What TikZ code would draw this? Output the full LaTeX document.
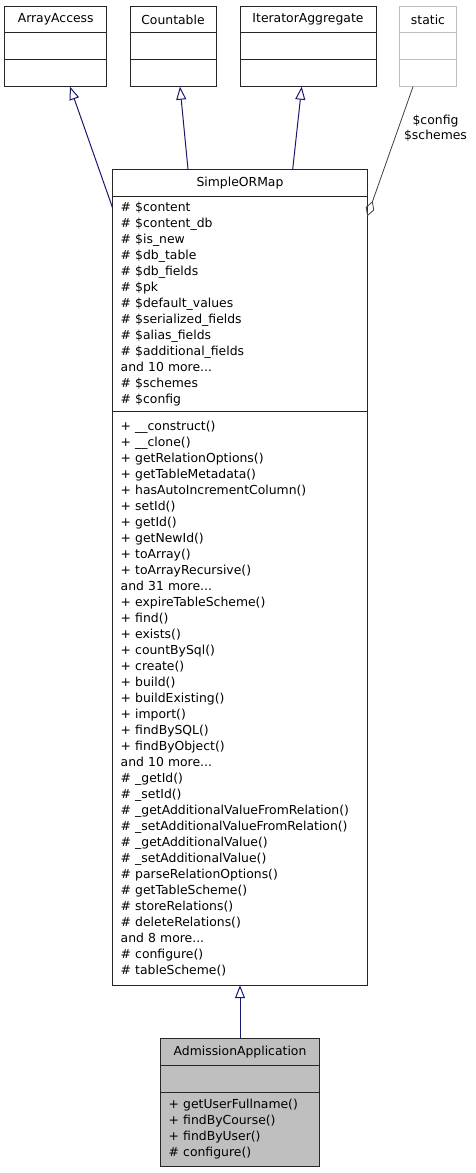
\documentclass[tikz,border=0pt]{standalone}
\usepackage{fontspec}
\setmainfont{DejaVu Sans}
\usetikzlibrary{arrows.meta,positioning}
\definecolor{midnightblue}{RGB}{25,25,112}
\definecolor{edgegray}{RGB}{64,64,64}
\definecolor{fadedgray}{RGB}{191,191,191}

\begin{document}
\begin{tikzpicture}[x=1pt,y=-1pt,
  box/.style={rectangle, draw=black!85, line width=1pt, fill=white, inner sep=0pt, outer sep=0pt,
    font=\fontsize{12.4}{16}\selectfont},
  head/.style={box, minimum width=#1, minimum height=26.9, anchor=north west},
  slot/.style={box, minimum width=#1, minimum height=26.9},
  members/.style={box, text width=#1, inner xsep=8pt, align=left},
  inherit/.style={draw=midnightblue, line width=1pt, -{Triangle[open, length=13pt, width=10pt]}},
  usage/.style={draw=edgegray, line width=0.8pt, -{Diamond[open, length=16pt, width=9pt]}}
]
\useasboundingbox (0,0) rectangle (476,1173);
%Interfaces
\node[head=102] (aa) at (4.7,6) {ArrayAccess};
\node[slot=102, below=0pt of aa] (aa attr) {};
\node[slot=102, below=0pt of aa attr] (aa meth) {};
\node[head=86] (cnt) at (130,6) {Countable};
\node[slot=86, below=0pt of cnt] (cnt attr) {};
\node[slot=86, below=0pt of cnt attr] (cnt meth) {};
\node[head=136] (ia) at (240,6) {IteratorAggregate};
\node[slot=136, below=0pt of ia] (ia attr) {};
\node[slot=136, below=0pt of ia attr] (ia meth) {};
\node[head=57.4, draw=fadedgray] (st) at (399.3,6) {static};
\node[slot=57.4, draw=fadedgray, below=0pt of st] (st attr) {};
\node[slot=57.4, draw=fadedgray, below=0pt of st attr] (st meth) {};
%Base class
\node[head=254.6] (som) at (112.7,169.3) {SimpleORMap};
\node[members=238.6, minimum height=215.7, below=0pt of som] (som attr) {%
\# \$content\\
\# \$content\_db\\
\# \$is\_new\\
\# \$db\_table\\
\# \$db\_fields\\
\# \$pk\\
\# \$default\_values\\
\# \$serialized\_fields\\
\# \$alias\_fields\\
\# \$additional\_fields\\
and 10 more...\\
\# \$schemes\\
\# \$config};
\node[members=238.6, minimum height=573.3, below=0pt of som attr] (som meth) {%
+ \_\_construct()\\
+ \_\_clone()\\
+ getRelationOptions()\\
+ getTableMetadata()\\
+ hasAutoIncrementColumn()\\
+ setId()\\
+ getId()\\
+ getNewId()\\
+ toArray()\\
+ toArrayRecursive()\\
and 31 more...\\
+ expireTableScheme()\\
+ find()\\
+ exists()\\
+ countBySql()\\
+ create()\\
+ build()\\
+ buildExisting()\\
+ import()\\
+ findBySQL()\\
+ findByObject()\\
and 10 more...\\
\# \_getId()\\
\# \_setId()\\
\# \_getAdditionalValueFromRelation()\\
\# \_setAdditionalValueFromRelation()\\
\# \_getAdditionalValue()\\
\# \_setAdditionalValue()\\
\# parseRelationOptions()\\
\# getTableScheme()\\
\# storeRelations()\\
\# deleteRelations()\\
and 8 more...\\
\# configure()\\
\# tableScheme()};
%Derived class
\node[head=158.6, fill=fadedgray] (adm) at (160.7,1038.3) {AdmissionApplication};
\node[slot=158.6, fill=fadedgray, below=0pt of adm] (adm attr) {};
\node[members=142.6, minimum height=74, fill=fadedgray, below=0pt of adm attr] (adm meth) {%
+ getUserFullname()\\
+ findByCourse()\\
+ findByUser()\\
\# configure()};
%Edges
\draw[inherit] ([yshift=-12]som attr.north west) -- ([xshift=14.3]aa meth.south);
\draw[inherit] ([xshift=-52]som.north) -- ([xshift=7]cnt meth.south);
\draw[inherit] ([xshift=52.7]som.north) -- ([xshift=-6.3]ia meth.south);
\draw[usage] ([xshift=-15]st meth.south) -- node[pos=0.32, anchor=west, xshift=2, align=center,
    font=\fontsize{12.4}{15}\selectfont] (uselabel) {\$config\\\$schemes} ([yshift=-20]som attr.north east);
\draw[inherit] (adm.north) -- (som meth.south);
\end{tikzpicture}
\end{document}
